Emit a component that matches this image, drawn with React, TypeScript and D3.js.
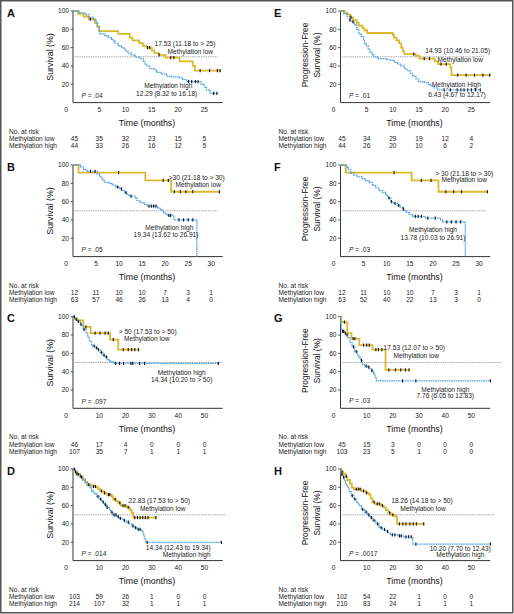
import React from 'react';
import * as d3 from 'd3';

type Pt = [number, number];

// ---------- tick labels ----------
const ticks30 = [0, 5, 10, 15, 20, 25];
const ticks32 = [0, 5, 10, 15, 20, 25, 30];
const ticks57 = [0, 10, 20, 30, 40, 50];
const yTicks = [20, 40, 60, 80, 100];

// ---------- Panel A ----------
const aLowSteps: Pt[] = [[1, 97], [2, 94], [3, 91], [4.2, 87], [4.6, 83], [5, 78], [8.6, 75], [10.8, 71], [11.3, 68], [12.6, 65], [13.3, 62], [14, 60], [15, 57], [15.5, 54], [16.3, 52], [17.6, 49], [20.3, 45], [22.8, 40], [23.2, 35]];
const aLowCensor = [3.3, 14.2, 14.6, 16.4, 18.6, 19.2, 24.2, 26, 27.5, 28];
const aHighSteps: Pt[] = [[1.2, 98], [2.3, 96], [3, 93], [3.9, 90], [4.4, 87], [4.7, 83], [5, 78], [5.1, 75], [6.1, 73], [6.7, 71], [7.3, 69], [7.7, 67], [8, 65], [8.6, 62], [9.2, 60], [9.7, 58], [10.1, 56], [10.5, 54], [11.1, 52], [11.8, 50], [12.7, 48], [13.4, 45], [13.7, 42], [14, 40], [14.6, 37], [15.5, 36], [15.9, 33], [16.8, 31], [17.8, 29], [18.7, 28], [20.3, 27], [20.9, 25], [21.6, 23], [24.4, 20], [25, 17], [25.4, 14], [26.1, 10]];
const aHighCensor = [22, 22.6, 23.3, 23.8, 26.8, 27.4];
const aRiskLow = [45, 35, 32, 23, 15, 5];
const aRiskHigh = [44, 33, 26, 16, 12, 5];

// ---------- Panel B ----------
const bLowSteps: Pt[] = [[1.2, 91.7], [15.7, 83.3], [21.3, 70.8]];
const bLowCensor = [9.9, 19.6, 20.7, 22, 23.3, 24.5, 26, 31.8];
const bHighSteps: Pt[] = [[1.6, 98], [2.3, 95], [3, 93], [5.2, 90], [5.8, 87], [6.3, 84], [6.8, 81], [7.8, 80], [8.5, 78], [9.2, 76], [10.1, 74], [10.7, 72], [11.2, 70], [11.6, 68], [12.1, 66], [13.6, 64], [13.9, 61], [14.6, 59], [15.4, 57], [16.1, 55], [18.4, 53], [19, 51], [19.6, 48], [20.1, 46], [20.4, 45], [21.9, 40], [26.9, 0]];
const bHighCensor = [3.8, 4.8, 9.7, 10.5, 11.5, 12.6, 16.5, 17, 17.5, 18, 20.8, 21.2, 23, 24, 25, 26];
const bRiskLow = [12, 11, 10, 10, 7, 3, 1];
const bRiskHigh = [63, 57, 46, 26, 13, 4, 0];

// ---------- Panel C ----------
const cLowSteps: Pt[] = [[0.4, 98], [1.6, 96], [3.9, 89], [6.7, 82], [14.1, 75], [17.2, 64]];
const cLowCensor = [4.9, 8.4, 10.3, 12.2, 13.4, 15.3, 19.1, 21, 22.3, 23.5, 24.9];
const cHighSteps: Pt[] = [[0.8, 97], [1.6, 95], [2.7, 92], [3.3, 90], [3.9, 86], [4.9, 82], [5.6, 78], [6.2, 73], [7.1, 68], [8.4, 66], [9.2, 64], [10.3, 61], [11.3, 58], [12.3, 56], [13, 53], [14.1, 51], [15.3, 49]];
const cHighCensor = [0.5, 1.2, 2, 3, 4.2, 8, 9, 9.7, 10.8, 11.8, 12.7, 16.2, 17.7, 19.2, 22, 22.7, 25.3, 27.2, 55.2];
const cRiskLow = [46, 17, 4, 0, 0, 0];
const cRiskHigh = [107, 35, 7, 1, 1, 1];

// ---------- Panel D ----------
const dLowSteps: Pt[] = [[0.4, 98], [1.1, 95], [2.7, 92], [3.7, 89], [4.6, 86], [5.4, 83], [7.1, 81], [9, 80], [9.6, 78], [10.3, 76], [11.5, 74], [12.8, 72], [14.7, 70], [15.3, 67], [16.3, 65], [17.2, 63], [18.1, 60], [20.4, 58], [21.6, 55], [22.3, 52], [22.9, 47]];
const dLowCensor = [1.5, 3, 6, 7.8, 8.5, 10.8, 12, 13.5, 14, 16, 17.8, 19, 19.8, 21, 23.5, 24.5, 25.5, 26.5, 27.5, 28.5, 31.5];
const dHighSteps: Pt[] = [[0.8, 97], [1.6, 94], [2.7, 91], [3.7, 88], [4.6, 85], [5.4, 82], [6.5, 79], [7.1, 76], [8, 73], [9, 70], [10, 67], [10.9, 64], [11.8, 61], [12.8, 58], [13.8, 56], [14.3, 53], [15.1, 50], [16.6, 48], [17.6, 46], [18.9, 44], [20.1, 42], [21.4, 40], [22.3, 38], [23.2, 36], [24.2, 34], [26.1, 32], [26.7, 28], [27.1, 24], [27.7, 20]];
const dHighCensor = [0.5, 1, 2, 3.3, 9.5, 10.5, 11.5, 12.3, 13, 14.8, 15.6, 16.3, 17.2, 18, 19.5, 21, 22.8, 23.8, 24.8, 25.5, 28.2, 56.4];
const dRiskLow = [103, 59, 26, 1, 0, 0];
const dRiskHigh = [214, 107, 32, 1, 1, 1];

// ---------- Panel E ----------
const eLowSteps: Pt[] = [[0.8, 98], [1.3, 96], [1.9, 93], [2.4, 90], [3.1, 87], [3.5, 84], [4.2, 81], [4.6, 79], [5.1, 76], [10, 74], [10.2, 71], [10.7, 68], [11.2, 65], [11.6, 60], [11.9, 56], [12.2, 53], [14.4, 51], [15.1, 48], [18, 45], [18.6, 42], [21, 38], [21.2, 30]];
const eLowCensor = [2, 14, 16, 17, 19.2, 20.2, 22.4, 24, 25.6, 27.2, 28.5];
const eHighSteps: Pt[] = [[0.6, 97], [1.3, 94], [1.7, 90], [2.2, 88], [2.7, 85], [3.1, 80], [3.5, 75], [4, 72], [4.4, 68], [4.6, 64], [5, 62], [5.3, 58], [5.6, 55], [6, 52], [6.4, 50], [7.1, 48], [8.7, 47], [9.6, 46], [10.3, 44], [10.9, 42], [11.5, 40], [12.2, 37], [12.7, 35], [13.3, 32], [13.8, 29], [14.4, 26], [14.9, 23], [16, 22], [16.8, 20], [17.2, 18], [17.9, 16], [18.6, 14]];
const eHighCensor = [1.8, 2.4, 19.8, 21, 22.3, 23, 23.6, 24.3, 25, 25.8, 26.7];
const eRiskLow = [45, 34, 29, 19, 12, 4];
const eRiskHigh = [44, 26, 20, 10, 6, 2];

// ---------- Panel F ----------
const fLowSteps: Pt[] = [[1.1, 91.7], [15.4, 83.3], [21.2, 70.8]];
const fLowCensor = [11.6, 17.5, 19.6, 22.8, 24.5, 26.2, 31.8];
const fHighSteps: Pt[] = [[1.4, 97], [1.7, 95], [2.2, 91], [2.9, 89], [3.6, 87], [4.7, 85], [5.4, 83], [6.2, 81], [6.9, 78], [7.6, 75], [8.3, 72], [9.1, 70], [9.8, 67], [10.3, 64], [10.9, 60], [11.4, 58], [12.3, 56], [12.9, 54], [13.4, 52], [13.8, 50], [14.3, 48], [14.9, 46], [15.6, 44], [18.3, 42], [21.7, 40], [22.1, 38], [27, 0]];
const fHighCensor = [10.5, 11, 11.8, 12.6, 13.6, 16.2, 16.8, 17.5, 18.9, 20.5, 23, 24, 25, 26];
const fRiskLow = [12, 11, 10, 10, 7, 3, 1];
const fRiskHigh = [63, 52, 40, 22, 13, 3, 0];

// ---------- Panel G ----------
const gLowSteps: Pt[] = [[0.3, 94], [2.6, 82], [4.2, 76], [7.2, 69], [12.2, 64], [17.2, 42]];
const gLowCensor = [1.5, 4.8, 5.5, 8.8, 10, 11, 13.5, 14.5, 15.8, 18.5, 21, 23, 24.8, 26.2];
const gHighSteps: Pt[] = [[0.1, 92], [0.3, 87], [0.6, 84], [1.5, 82], [2.2, 80], [2.8, 77], [3.6, 72], [4.4, 67], [5.4, 62], [6.4, 58], [7.1, 55], [7.7, 52], [8.3, 48], [9.2, 46], [10.3, 45], [11.3, 43], [11.9, 41], [12.6, 38], [13.2, 34], [13.7, 30]];
const gHighCensor = [0.8, 1.2, 1.8, 2.5, 5, 6, 8, 9.8, 10.8, 12, 23.7, 28.8, 57.3];
const gRiskLow = [45, 15, 3, 0, 0, 0];
const gRiskHigh = [103, 23, 5, 1, 0, 0];

// ---------- Panel H ----------
const hLowSteps: Pt[] = [[0.3, 97], [1, 95], [1.9, 92], [2.6, 88], [3.6, 84], [4.3, 80], [5.1, 78], [8, 76], [9.6, 74], [10.9, 72], [11.5, 68], [12.2, 64], [13.1, 62], [15.4, 60], [16.5, 58], [17.3, 55], [18.2, 52], [19.2, 50], [20.9, 48], [21.6, 40]];
const hLowCensor = [0.6, 2.2, 6, 6.8, 7.5, 8.8, 10, 12.8, 14, 14.8, 16, 18.8, 20, 22.5, 23.8, 25, 26.5, 27.8, 29, 31.8];
const hHighSteps: Pt[] = [[0.2, 94], [1, 91], [1.5, 87], [1.9, 83], [2.6, 80], [3.3, 75], [4.1, 71], [5.1, 67], [6.2, 63], [7, 60], [8, 56], [9.2, 53], [10.3, 50], [11.3, 47], [12.2, 44], [13.5, 40], [14.7, 36], [16, 34], [17.3, 32], [18.2, 30], [19.2, 28], [21.8, 27], [24.4, 26], [27.6, 18]];
const hHighCensor = [0.5, 1.2, 4.5, 5.5, 8.5, 9.8, 10.8, 11.8, 12.8, 14.2, 15.5, 16.8, 18, 19.8, 20.8, 22.5, 23.2, 25, 26, 27, 28.8, 57.3];
const hRiskLow = [102, 54, 22, 1, 0, 0];
const hRiskHigh = [210, 83, 24, 1, 1, 1];

// ---------- layout ----------
const COLS = [
  { x0: 73, labelX: 9, letterX: 7 },
  { x0: 340.5, labelX: 278.5, letterX: 274 },
];
const ROW_TOP = [11, 165, 316.7, 469];
const PW = 149.7;
const PH = 91.6;

const YELLOW = '#dbb92c';
const BLUE = '#4fa3e6';
const FONT = '"Liberation Sans", Arial, Helvetica, sans-serif';

type Ann = { dx: number; dy: number; text: string };
type Panel = {
  letter: string; col: number; row: number; xMax: number; ticks: number[];
  low: Pt[]; lowEnd: number; lowC: number[];
  high: Pt[]; highEnd: number; highC: number[];
  riskLow: number[]; riskHigh: number[];
  refEnd: number; ann: Ann[]; p: string; pdy: number; ylab: string[];
};

const SURV = ['Survival (%)'];
const PFS = ['Progression-Free', 'Survival (%)'];

const panels: Panel[] = [
  { letter: 'A', col: 0, row: 0, xMax: 28.5, ticks: ticks30, low: aLowSteps, lowEnd: 28.2, lowC: aLowCensor, high: aHighSteps, highEnd: 27.6, highC: aHighCensor, riskLow: aRiskLow, riskHigh: aRiskHigh, refEnd: 27.5,
    ann: [{ dx: 112, dy: 32.3, text: '17.53 (11.18 to > 25)' }, { dx: 117.3, dy: 40.7, text: 'Methylation low' }, { dx: 95.3, dy: 74.7, text: 'Methylation high' }, { dx: 93.7, dy: 82.3, text: '12.29 (8.32 to 16.18)' }], p: ' = .04', pdy: 84.7, ylab: SURV },
  { letter: 'B', col: 0, row: 1, xMax: 32.5, ticks: ticks32, low: bLowSteps, lowEnd: 31.9, lowC: bLowCensor, high: bHighSteps, highEnd: 26.9, highC: bHighCensor, riskLow: bRiskLow, riskHigh: bRiskHigh, refEnd: 31.4,
    ann: [{ dx: 123.7, dy: 12.7, text: '>30 (21.18 to > 30)' }, { dx: 125.3, dy: 19.3, text: 'Methylation low' }, { dx: 96.3, dy: 62.3, text: 'Methylation high' }, { dx: 93, dy: 70, text: '19.34 (13.62 to 26.91)' }], p: ' = .05', pdy: 84.3, ylab: SURV },
  { letter: 'C', col: 0, row: 2, xMax: 56.9, ticks: ticks57, low: cLowSteps, lowEnd: 25.2, lowC: cLowCensor, high: cHighSteps, highEnd: 55.8, highC: cHighCensor, riskLow: cRiskLow, riskHigh: cRiskHigh, refEnd: 56.5,
    ann: [{ dx: 74.7, dy: 15, text: '> 50 (17.53 to > 50)' }, { dx: 73.7, dy: 22.3, text: 'Methylation low' }, { dx: 108.7, dy: 56, text: 'Methylation high' }, { dx: 108.7, dy: 63.3, text: '14.34 (10.20 to > 50)' }], p: ' = .097', pdy: 85, ylab: SURV },
  { letter: 'D', col: 0, row: 3, xMax: 56.9, ticks: ticks57, low: dLowSteps, lowEnd: 31.8, lowC: dLowCensor, high: dHighSteps, highEnd: 56.5, highC: dHighCensor, riskLow: dRiskLow, riskHigh: dRiskHigh, refEnd: 58,
    ann: [{ dx: 86.3, dy: 31.7, text: '22.83 (17.53 to > 50)' }, { dx: 89.7, dy: 39.3, text: 'Methylation low' }, { dx: 105.3, dy: 78.3, text: '14.34 (12.43 to 19.34)' }, { dx: 113.7, dy: 85.3, text: 'Methylation high' }], p: ' = .014', pdy: 84.3, ylab: SURV },
  { letter: 'E', col: 1, row: 0, xMax: 28.6, ticks: ticks30, low: eLowSteps, lowEnd: 28.7, lowC: eLowCensor, high: eHighSteps, highEnd: 26.8, highC: eHighCensor, riskLow: eRiskLow, riskHigh: eRiskHigh, refEnd: 27.5,
    ann: [{ dx: 117.2, dy: 40, text: '14.93 (10.46 to 21.05)' }, { dx: 119.8, dy: 49, text: 'Methylation low' }, { dx: 115.8, dy: 73.3, text: 'Methylation High' }, { dx: 116.5, dy: 84, text: '6.43 (4.67 to 12.17)' }], p: ' = .01', pdy: 85, ylab: PFS },
  { letter: 'F', col: 1, row: 1, xMax: 32.4, ticks: ticks32, low: fLowSteps, lowEnd: 31.9, lowC: fLowCensor, high: fHighSteps, highEnd: 27, highC: fHighCensor, riskLow: fRiskLow, riskHigh: fRiskHigh, refEnd: 31.6,
    ann: [{ dx: 123.8, dy: 8.3, text: '> 30 (21.18 to > 30)' }, { dx: 123.8, dy: 15, text: 'Methylation low' }, { dx: 92.5, dy: 65, text: 'Methylation high' }, { dx: 92.5, dy: 72.7, text: '13.78 (10.03 to 26.91)' }], p: ' = .03', pdy: 84.3, ylab: PFS },
  { letter: 'G', col: 1, row: 2, xMax: 57.2, ticks: ticks57, low: gLowSteps, lowEnd: 26.3, lowC: gLowCensor, high: gHighSteps, highEnd: 57.4, highC: gHighCensor, riskLow: gRiskLow, riskHigh: gRiskHigh, refEnd: 61.5,
    ann: [{ dx: 73.8, dy: 31, text: '17.53 (12.07 to > 50)' }, { dx: 75.8, dy: 39.3, text: 'Methylation low' }, { dx: 104.8, dy: 72.6, text: 'Methylation high' }, { dx: 104.8, dy: 79.3, text: '7.76 (6.05 to 12.83)' }], p: ' = .03', pdy: 84, ylab: PFS },
  { letter: 'H', col: 1, row: 3, xMax: 57.2, ticks: ticks57, low: hLowSteps, lowEnd: 32, lowC: hLowCensor, high: hHighSteps, highEnd: 57.4, highC: hHighCensor, riskLow: hRiskLow, riskHigh: hRiskHigh, refEnd: 59,
    ann: [{ dx: 81.5, dy: 31.7, text: '18.26 (14.18 to > 50)' }, { dx: 82.5, dy: 39.3, text: 'Methylation low' }, { dx: 119.8, dy: 79.3, text: '10.20 (7.70 to 12.43)' }, { dx: 119.8, dy: 86, text: 'Methylation high' }], p: ' = .0017', pdy: 84.3, ylab: PFS },
];

function survAt(steps: Pt[], t: number): number {
  let s = 100;
  for (const [tt, ss] of steps) if (tt <= t) s = ss;
  return s;
}

function KMPanel({ p }: { p: Panel }) {
  const c = COLS[p.col];
  const top = ROW_TOP[p.row];
  const x = d3.scaleLinear().domain([0, p.xMax]).range([c.x0, c.x0 + PW]);
  const y = d3.scaleLinear().domain([0, 100]).range([top + PH, top]);
  const line = d3.line<Pt>().x(d => x(d[0])).y(d => y(d[1])).curve(d3.curveStepAfter);
  const pts = (steps: Pt[], end: number): Pt[] => [[0, 100], ...steps, [end, steps[steps.length - 1][1]]];
  const yb = top + PH;
  const fs = 6.6;
  return (
    <g fontFamily={FONT}>
      <text x={c.letterX} y={top + 5.5} fontSize={11} fontWeight="bold" fill="#111">{p.letter}</text>
      {/* axes */}
      <line x1={c.x0} x2={c.x0} y1={y(100)} y2={yb} stroke="#333" strokeWidth={1} />
      <line x1={c.x0} x2={c.x0 + PW} y1={yb} y2={yb} stroke="#333" strokeWidth={1} />
      {yTicks.map(t => (
        <g key={'y' + t}>
          <line x1={c.x0 - 2.5} x2={c.x0} y1={y(t)} y2={y(t)} stroke="#333" strokeWidth={0.8} />
          <text x={c.x0 - 4} y={y(t) + 2.3} fontSize={fs} textAnchor="end" fill="#222">{t}</text>
        </g>
      ))}
      {p.ticks.map(t => (
        <text key={'x' + t} x={t === 0 ? c.x0 - 7 : x(t)} y={yb + 9.8} fontSize={fs} textAnchor="middle" fill="#222">{t}</text>
      ))}
      {/* axis labels */}
      <text x={c.x0 + 74} y={top + 114.8} fontSize={8.8} textAnchor="middle" fill="#111">Time (months)</text>
      {p.ylab.length === 1 ? (
        <text transform={`translate(${c.x0 - 20},${top + 46}) rotate(-90)`} fontSize={8.8} textAnchor="middle" fill="#111">{p.ylab[0]}</text>
      ) : (
        <g>
          <text transform={`translate(${c.x0 - 32.2},${top + 44}) rotate(-90)`} fontSize={8.4} textAnchor="middle" fill="#111">{p.ylab[0]}</text>
          <text transform={`translate(${c.x0 - 20.5},${top + 44}) rotate(-90)`} fontSize={8.4} textAnchor="middle" fill="#111">{p.ylab[1]}</text>
        </g>
      )}
      {/* median reference */}
      <line x1={c.x0} x2={x(p.refEnd)} y1={y(50)} y2={y(50)} stroke="#9a9a9a" strokeWidth={1} strokeDasharray="1 0.8" />
      {/* curves */}
      <path d={line(pts(p.low, p.lowEnd)) || ''} fill="none" stroke={YELLOW} strokeWidth={1.8} />
      <path d={line(pts(p.high, p.highEnd)) || ''} fill="none" stroke={BLUE} strokeWidth={1.3} strokeDasharray="1.6 0.7" />
      {p.lowC.map((t, i) => (
        <line key={'lc' + i} x1={x(t)} x2={x(t)} y1={y(survAt(p.low, t)) - 1.6} y2={y(survAt(p.low, t)) + 1.6} stroke="#111" strokeWidth={1.1} />
      ))}
      {p.highC.map((t, i) => (
        <line key={'hc' + i} x1={x(t)} x2={x(t)} y1={y(survAt(p.high, t)) - 1.6} y2={y(survAt(p.high, t)) + 1.6} stroke="#111" strokeWidth={1.1} />
      ))}
      {/* annotations */}
      {p.ann.map((a, i) => (
        <text key={'a' + i} x={c.x0 + a.dx} y={top + a.dy + 2.3} fontSize={6.6} textAnchor="middle" fill="#222">{a.text}</text>
      ))}
      <text x={c.x0 + 8.6} y={top + p.pdy + 2.3} fontSize={6.6} fill="#222"><tspan fontStyle="italic">P</tspan>{p.p}</text>
      {/* number at risk */}
      <text x={c.labelX} y={top + 122.6} fontSize={fs} fill="#222">No. at risk</text>
      <text x={c.labelX} y={top + 130} fontSize={fs} fill="#222">Methylation low</text>
      <text x={c.labelX} y={top + 137.3} fontSize={fs} fill="#222">Methylation high</text>
      {p.ticks.map((t, i) => (
        <g key={'r' + t}>
          <text x={x(t) + (i === 0 ? 1.5 : 0)} y={top + 130} fontSize={fs} textAnchor="middle" fill="#222">{p.riskLow[i]}</text>
          <text x={x(t) + (i === 0 ? 1.5 : 0)} y={top + 137.3} fontSize={fs} textAnchor="middle" fill="#222">{p.riskHigh[i]}</text>
        </g>
      ))}
    </g>
  );
}

export default function App() {
  return (
    <div style={{ position: 'absolute', left: 0, top: 0 }}>
      <svg width={514} height={614} style={{ display: 'block', background: '#fff' }}>
        <rect x={0.75} y={0.75} width={512} height={612} fill="#fff" stroke="#555" strokeWidth={1.5} />
        {panels.map(p => <KMPanel key={p.letter} p={p} />)}
      </svg>
    </div>
  );
}
